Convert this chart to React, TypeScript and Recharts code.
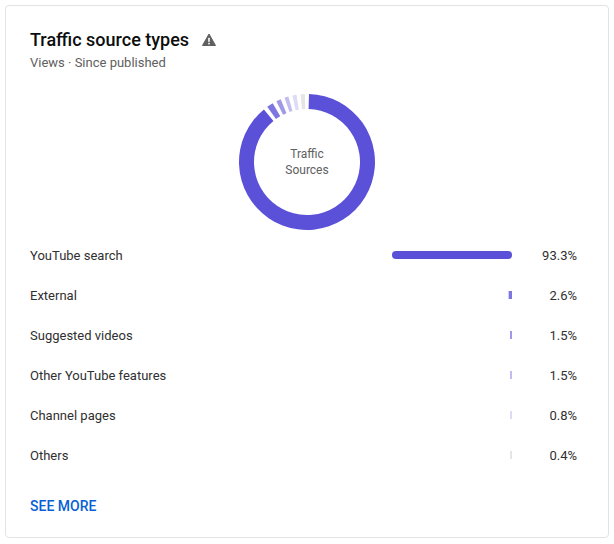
import { PieChart, Pie, Cell, BarChart, Bar, XAxis, YAxis } from "recharts";

const sources = ["YouTube search", "External", "Suggested videos", "Other YouTube features", "Channel pages", "Others"];
const shares = [93.3, 2.6, 1.5, 1.5, 0.8, 0.4];
const ringShares = [319, 5.5, 4, 3.4, 3.5, 3.6];
const colors = ["#5b51d8", "#7d75e0", "#9f99e8", "#c1bdf0", "#dddbf6", "#e5e5e5"];

const barData = sources.map((name, i) => ({ name, share: shares[i] }));
const ringData = sources.map((name, i) => ({ name, value: ringShares[i] }));

const NameTick = ({ y, payload }: any) => (
    <text x={30} y={y} dy={4.5} fontSize={13} fill="#303030" fontFamily="Roboto, sans-serif">
        {payload.value}
    </text>
);

const ShareTick = ({ y, payload }: any) => {
    const row = barData.find((d) => d.name === payload.value);
    return (
        <text x={577} y={y} dy={4.5} textAnchor="end" fontSize={13} fill="#303030" fontFamily="Roboto, sans-serif">
            {row ? row.share.toFixed(1) : ""}%
        </text>
    );
};

export default function App() {
    return (
        <div style={{ position: "absolute", left: 0, top: 0, width: 614, height: 544, background: "#fff", fontFamily: "Roboto, sans-serif" }}>
            <div style={{ position: "absolute", left: 5, top: 5, width: 602, height: 531, border: "1px solid #e3e3e3", borderRadius: 4 }} />
            <div style={{ position: "absolute", left: 30, top: 29, fontSize: 18, fontWeight: 500, lineHeight: "22px", color: "#0d0d0d" }}>
                Traffic source types
            </div>
            <svg style={{ position: "absolute", left: 200, top: 32 }} width={18} height={16} viewBox="0 0 18 16">
                <path d="M9 2 L15.5 13.5 L2.5 13.5 Z" fill="#5f5f5f" stroke="#5f5f5f" strokeLinejoin="round" />
                <rect x={8.2} y={5.8} width={1.6} height={4} fill="#fff" />
                <rect x={8.2} y={10.8} width={1.6} height={1.6} fill="#fff" />
            </svg>
            <div style={{ position: "absolute", left: 30, top: 55, fontSize: 13, lineHeight: "16px", color: "#606060" }}>
                Views · Since published
            </div>

            <div style={{ position: "absolute", left: 232, top: 87 }}>
                <PieChart width={150} height={150} margin={{ top: 0, right: 0, bottom: 0, left: 0 }}>
                    <Pie
                        data={ringData}
                        dataKey="value"
                        cx={75}
                        cy={75}
                        innerRadius={53}
                        outerRadius={68}
                        startAngle={88.3}
                        endAngle={-271.7}
                        paddingAngle={3.5}
                        stroke="none"
                        isAnimationActive={false}
                    >
                        {ringData.map((d, i) => (
                            <Cell key={d.name} fill={colors[i]} />
                        ))}
                    </Pie>
                    <text x={75} y={71} textAnchor="middle" fontSize={12} fill="#606060" fontFamily="Roboto, sans-serif">
                        Traffic
                    </text>
                    <text x={75} y={87} textAnchor="middle" fontSize={12} fill="#606060" fontFamily="Roboto, sans-serif">
                        Sources
                    </text>
                </PieChart>
            </div>

            <div style={{ position: "absolute", left: 0, top: 235 }}>
                <BarChart
                    width={614}
                    height={240}
                    layout="vertical"
                    data={barData}
                    margin={{ top: 0, right: 0, bottom: 0, left: 0 }}
                    barSize={8}
                >
                    <XAxis type="number" hide reversed domain={[0, 93.3]} />
                    <YAxis yAxisId="names" type="category" dataKey="name" orientation="left" width={392} axisLine={false} tickLine={false} tick={<NameTick />} interval={0} />
                    <YAxis yAxisId="shares" type="category" dataKey="name" orientation="right" width={102} axisLine={false} tickLine={false} tick={<ShareTick />} interval={0} />
                    <Bar yAxisId="names" dataKey="share" minPointSize={2} isAnimationActive={false}>
                        {barData.map((d, i) => (
                            <Cell key={d.name} fill={colors[i]} radius={i === 0 ? 4 : 0} />
                        ))}
                    </Bar>
                </BarChart>
            </div>

            <div style={{ position: "absolute", left: 30, top: 498, fontSize: 14, fontWeight: 500, lineHeight: "16px", color: "#065fd4" }}>
                SEE MORE
            </div>
        </div>
    );
}
